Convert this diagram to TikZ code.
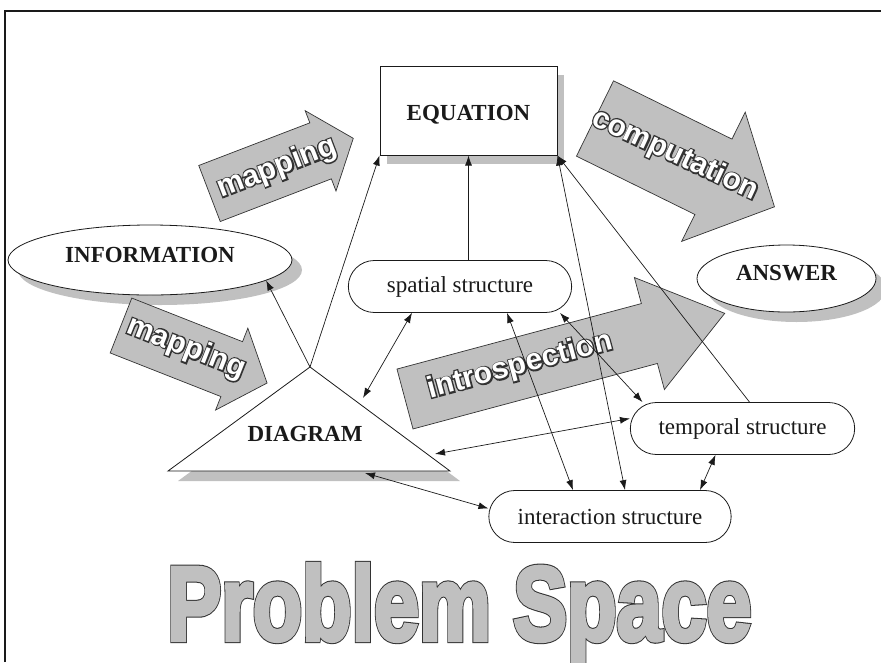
\documentclass[tikz,border=0pt]{standalone}
\usepackage{fontspec}
\setmainfont{Liberation Serif}
\newfontfamily\wordfont{Liberation Sans Bold}
\newfontfamily\wordrim[FakeBold=9]{Liberation Sans Bold}
\newfontfamily\titlefill[FakeBold=4]{Liberation Sans Bold}
\newfontfamily\titlerim[FakeBold=6]{Liberation Sans Bold}
\usetikzlibrary{arrows.meta, shapes.geometric, shapes.misc, shadows}
\definecolor{inkblack}{HTML}{1A1A1A}
\definecolor{shadegray}{HTML}{C0C0C0}
\definecolor{rimgray}{HTML}{333333}
\tikzset{
  bigword/.style={font=\bfseries\fontsize{23}{27}\selectfont, text=inkblack},
  plainword/.style={font=\fontsize{23}{27}\selectfont, text=inkblack},
  eqbox/.style={draw=inkblack, fill=white, line width=1pt, minimum width=177pt, minimum height=89pt,
    bigword, text height=24pt, drop shadow={shadow xshift=7pt, shadow yshift=-9pt, fill=shadegray, opacity=1}},
  ovalbox/.style={ellipse, draw=inkblack, fill=white, line width=0.8pt, bigword, text depth=11pt,
    drop shadow={shadow xshift=10pt, shadow yshift=-10pt, fill=shadegray, opacity=1}},
  pillbox/.style={rounded rectangle, draw=inkblack, fill=white, line width=0.8pt, minimum height=52pt, plainword},
  tribox/.style={draw=inkblack, fill=white, line width=0.8pt,
    drop shadow={shadow xshift=10pt, shadow yshift=-10pt, fill=shadegray, opacity=1}},
  blockarrow/.style={draw=rimgray, fill=shadegray, line width=0.7pt, line join=miter},
  arrowword/.style={font=\wordfont\fontsize{30}{32}\selectfont, inner sep=0pt, text=white},
  arrowrim/.style={font=\wordrim\fontsize{30}{32}\selectfont, inner sep=0pt, text=rimgray},
  titleword/.style={font=\titlefill\fontsize{105}{110}\selectfont, inner sep=0pt, xscale=0.77,
    anchor=base, text=shadegray},
  titlerim/.style={font=\titlerim\fontsize{105}{110}\selectfont, inner sep=0pt, xscale=0.77,
    anchor=base, text=rimgray},
  framerule/.style={draw=inkblack, line width=1.2pt},
  flow/.style={-{Latex[length=10pt, width=7pt]}, draw=inkblack, line width=0.7pt},
  biflow/.style={{Latex[length=10pt, width=7pt]}-{Latex[length=10pt, width=7pt]}, draw=inkblack, line width=0.7pt}
}
% fat gray arrow: tail middle, angle, length, shaft half width, head half width, head length
\newcommand\fatarrow[6]{%
  \begin{scope}[shift={#1}, rotate=#2, x=1pt, y=1pt]
    \draw[blockarrow] (0,#4) -- ({#3-#6},#4) -- ({#3-#6},#5) -- (#3,0)
      -- ({#3-#6},-#5) -- ({#3-#6},-#4) -- (0,-#4) -- cycle;
  \end{scope}}

\begin{document}
\begin{tikzpicture}[x=1pt, y=-1pt]
\useasboundingbox (0,0) rectangle (881,662);
\draw[framerule] (5,662) -- (5,11) -- (881,11);

% main boxes
\node[eqbox] (eq) at (468.5,110.5) {EQUATION};
\node[ovalbox, minimum width=284pt, minimum height=70pt] (info) at (150,260) {INFORMATION};
\node[ovalbox, minimum width=179pt, minimum height=67pt] (answer) at (786.5,278.5) {ANSWER};
\node[pillbox, minimum width=230pt] (spatial) at (460,286.5) {spatial structure};
\node[pillbox, minimum width=231pt] (temporal) at (742.5,428.5) {temporal structure};
\node[pillbox, minimum width=249pt] (interaction) at (610,516.5) {interaction structure};

% the diagram triangle
\coordinate (dgtop) at (310,367);
\coordinate (dgleft) at (168,471);
\coordinate (dgright) at (450,471);
\draw[tribox] (dgleft) -- (dgtop) -- (dgright) -- cycle;
\node[bigword] (diagram) at (305,434) {DIAGRAM};
\coordinate (dgside) at (363,398);
\coordinate (dglow) at (435,454);
\coordinate (dgbase) at (365,473);

% fat arrows
\fatarrow{(209.5,193.5)}{21}{154}{30}{43}{35}
\fatarrow{(121,325.5)}{-21.5}{157}{29.5}{44}{38}
\fatarrow{(595,118.5)}{-26.2}{200}{42}{72}{68}
\fatarrow{(405,399)}{15}{331}{31}{58}{78}
\node[arrowrim, rotate=21] (mapup-rim) at (277,168) {mapping};
\node[arrowword, rotate=21] (mapup) at (277,168) {mapping};
\node[arrowrim, rotate=-21.5] (maplow-rim) at (186,348) {mapping};
\node[arrowword, rotate=-21.5] (maplow) at (186,348) {mapping};
\node[arrowrim, rotate=-25] (comp-rim) at (675,155) {computation};
\node[arrowword, rotate=-25] (comp) at (675,155) {computation};
\node[arrowrim, rotate=15] (intro-rim) at (520,366) {introspection};
\node[arrowword, rotate=15] (intro) at (520,366) {introspection};

% connectors
\draw[flow] (dgtop) -- (info.-10);
\draw[flow] (dgtop) -- (eq.south west);
\draw[flow] (eq.south |- spatial.north) -- (eq.south);
\draw[flow] ([xshift=7pt]temporal.north) -- (eq.south east);
\draw[biflow] (eq.south east) -- ([xshift=15pt]interaction.north);
\draw[biflow] ([xshift=47pt]spatial.south) -- ([xshift=-37pt]interaction.north);
\draw[biflow] ([xshift=-48pt]spatial.south) -- (dgside);
\draw[biflow] ([xshift=100pt]spatial.south) -- ([xshift=-100pt]temporal.north);
\draw[biflow] ([yshift=10pt]temporal.west) -- (dglow);
\draw[biflow] (dgbase) -- ([yshift=8pt]interaction.west);
\draw[biflow] ([xshift=-27pt]temporal.south) -- ([xshift=90pt]interaction.north);

% title
\node[titlerim] (title-rim) at (459.5,640) {Problem Space};
\node[titleword] (title) at (459.5,640) {Problem Space};
\end{tikzpicture}
\end{document}
